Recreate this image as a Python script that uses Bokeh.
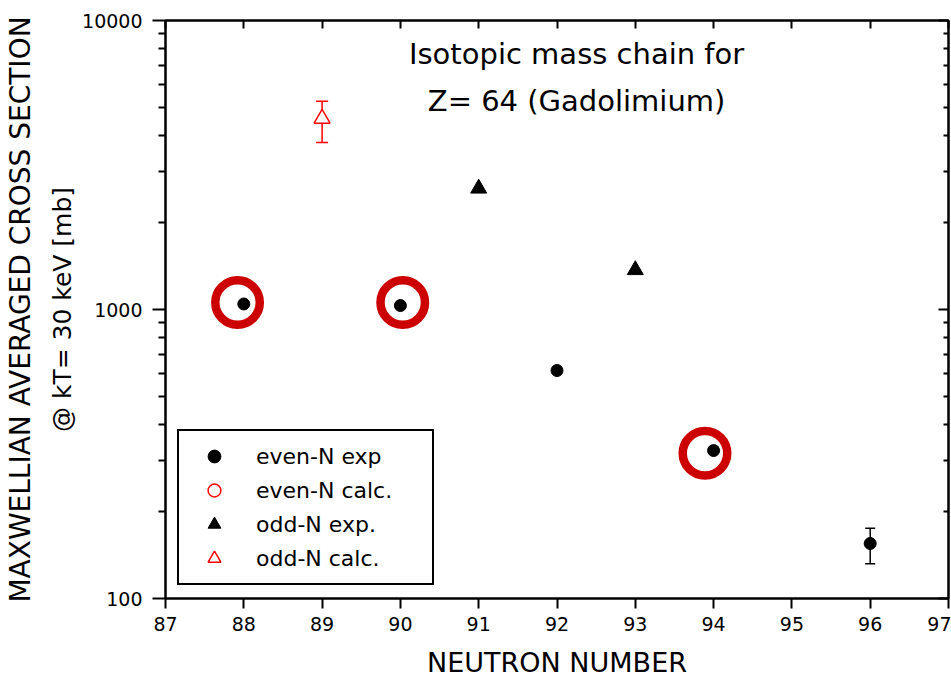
from bokeh.plotting import figure
from bokeh.models import (ColumnDataSource, Whisker, TeeHead, FixedTicker, LinearAxis, LogAxis,
                          PrintfTickFormatter, CustomJSTickFormatter, Legend, LegendItem, Label,
                          Range1d)
from bokeh.embed import file_html
from bokeh.resources import INLINE

# ---------------- data ----------------
even_n = [88, 90, 92, 94, 96]
even_exp = [1045, 1032, 615, 325, 155]
even_err_n = [96]
even_err_lo = [132]
even_err_hi = [175]

# no calculated even-N values are shown (legend entry only)
even_calc_n = [float("nan")]
even_calc = [float("nan")]

odd_n = [91, 93]
odd_exp = [2623, 1370]

odd_calc_n = [89]
odd_calc = [4580]
odd_calc_lo = [3786]
odd_calc_hi = [5257]

# hand-drawn highlight circles (annotation)
circled_n = [87.92, 90.03, 93.89]
circled_sigma = [1057, 1057, 318]

x_ticks = list(range(87, 98))
y_major = [100, 1000, 10000]
y_minor = [m * 10 ** e for e in (2, 3) for m in range(2, 10)]

title_lines = ["Isotopic mass chain for", "Z= 64 (Gadolimium)"]
title_n = 92.25
title_sigma = [7650, 5245]

FONT = "DejaVu Sans"

p = figure(width=951, height=693, x_range=Range1d(87, 97), y_range=Range1d(100, 10000),
           y_axis_type="log", output_backend="svg", toolbar_location=None,
           min_border_left=163, min_border_right=3, min_border_top=20, min_border_bottom=95)
p.xgrid.visible = False
p.ygrid.visible = False
p.outline_line_color = "black"
p.outline_line_width = 2
p.background_fill_color = "white"
p.border_fill_color = "white"

# bottom axis
xa = p.xaxis[0]
xa.ticker = FixedTicker(ticks=x_ticks)
xa.formatter = PrintfTickFormatter(format="%d")
xa.major_tick_in = 0
xa.major_tick_out = 10
xa.minor_tick_line_color = None
xa.axis_line_width = 2
xa.major_tick_line_width = 2
xa.major_label_text_font = FONT
xa.major_label_text_font_size = "19px"
xa.major_label_text_color = "black"
xa.major_label_standoff = 8
xa.axis_label = "NEUTRON NUMBER"
xa.axis_label_text_font = FONT
xa.axis_label_text_font_size = "27px"
xa.axis_label_text_font_style = "normal"
xa.axis_label_text_color = "black"
xa.axis_label_standoff = 13

# left axis
ya = p.yaxis[0]
ya.ticker = FixedTicker(ticks=y_major, minor_ticks=y_minor)
ya.formatter = PrintfTickFormatter(format="%d")
ya.major_tick_in = 0
ya.major_tick_out = 13
ya.minor_tick_in = 0
ya.minor_tick_out = 7
ya.axis_line_width = 2
ya.major_tick_line_width = 2
ya.minor_tick_line_width = 2
ya.major_label_text_font = FONT
ya.major_label_text_font_size = "19px"
ya.major_label_text_color = "black"
ya.major_label_standoff = 10
ya.axis_label = "@ kT= 30 keV [mb]"
ya.axis_label_text_font = FONT
ya.axis_label_text_font_size = "25px"
ya.axis_label_text_font_style = "normal"
ya.axis_label_text_color = "black"
ya.axis_label_standoff = 2

ya2 = LogAxis(ticker=FixedTicker(ticks=[]), axis_line_color=None,
              major_tick_line_color=None, minor_tick_line_color=None,
              major_label_standoff=0,
              axis_label="MAXWELLIAN AVERAGED CROSS SECTION",
              axis_label_text_font=FONT, axis_label_text_font_size="28px",
              axis_label_text_font_style="normal", axis_label_text_color="black",
              axis_label_standoff=9)
p.add_layout(ya2, "left")

blank = CustomJSTickFormatter(code="return ''")

# top axis
ta = LinearAxis(ticker=FixedTicker(ticks=x_ticks), major_tick_in=8, major_tick_out=0,
                minor_tick_line_color=None, formatter=blank,
                major_label_standoff=0, axis_line_width=2, major_tick_line_width=2)
p.add_layout(ta, "above")

# right axis
ra = LogAxis(ticker=FixedTicker(ticks=y_major, minor_ticks=y_minor), major_tick_in=10,
             major_tick_out=0, minor_tick_in=5, minor_tick_out=0, formatter=blank,
             major_label_standoff=0,
             axis_line_width=2, major_tick_line_width=2, minor_tick_line_width=2)
p.add_layout(ra, "right")

# error bars
src_odd_calc = ColumnDataSource(dict(n=odd_calc_n, v=odd_calc, lo=odd_calc_lo, hi=odd_calc_hi))
src_even_err = ColumnDataSource(dict(n=even_err_n, lo=even_err_lo, hi=even_err_hi))
p.add_layout(Whisker(source=src_odd_calc, base="n", lower="lo", upper="hi", dimension="height",
                     line_color="red", line_width=1.5,
                     upper_head=TeeHead(size=12, line_color="red", line_width=1.5),
                     lower_head=TeeHead(size=12, line_color="red", line_width=1.5)))
p.add_layout(Whisker(source=src_even_err, base="n", lower="lo", upper="hi", dimension="height",
                     line_color="black", line_width=1.5,
                     upper_head=TeeHead(size=10, line_color="black", line_width=1.5),
                     lower_head=TeeHead(size=10, line_color="black", line_width=1.5)))

# points
r_even = p.scatter(even_n, even_exp, marker="circle", size=12, color="black")
r_even_calc = p.scatter(even_calc_n, even_calc, marker="circle", size=9,
                        fill_color=None, line_color="red", line_width=1.5)
r_odd = p.scatter(odd_n, odd_exp, marker="triangle", size=16, color="black")
r_odd_calc = p.scatter(x="n", y="v", source=src_odd_calc, marker="triangle", size=16,
                       fill_color="white", line_color="red", line_width=1.5)

# highlight circles
p.scatter(circled_n, circled_sigma, marker="circle", size=44.5, fill_color=None,
          line_color="#CC0000", line_width=8.5)

# title text
for t, yv in zip(title_lines, title_sigma):
    p.add_layout(Label(x=title_n, y=yv, text=t, text_align="center", text_baseline="middle",
                       text_font=FONT, text_font_size="29px", text_color="black"))

legend = Legend(items=[LegendItem(label="even-N exp", renderers=[r_even]),
                       LegendItem(label="even-N calc.", renderers=[r_even_calc]),
                       LegendItem(label="odd-N exp.", renderers=[r_odd]),
                       LegendItem(label="odd-N calc.", renderers=[r_odd_calc])],
                location=(12, 13), orientation="vertical",
                glyph_width=52, glyph_height=32, label_height=32, label_width=167,
                label_standoff=16, spacing=2, padding=9, margin=0,
                border_line_color="black", border_line_width=2, border_line_alpha=1,
                background_fill_color="white", background_fill_alpha=1,
                label_text_font=FONT, label_text_font_size="22px", label_text_color="black")
p.add_layout(legend, "center")

open("out.html", "w").write(file_html(p, INLINE))
